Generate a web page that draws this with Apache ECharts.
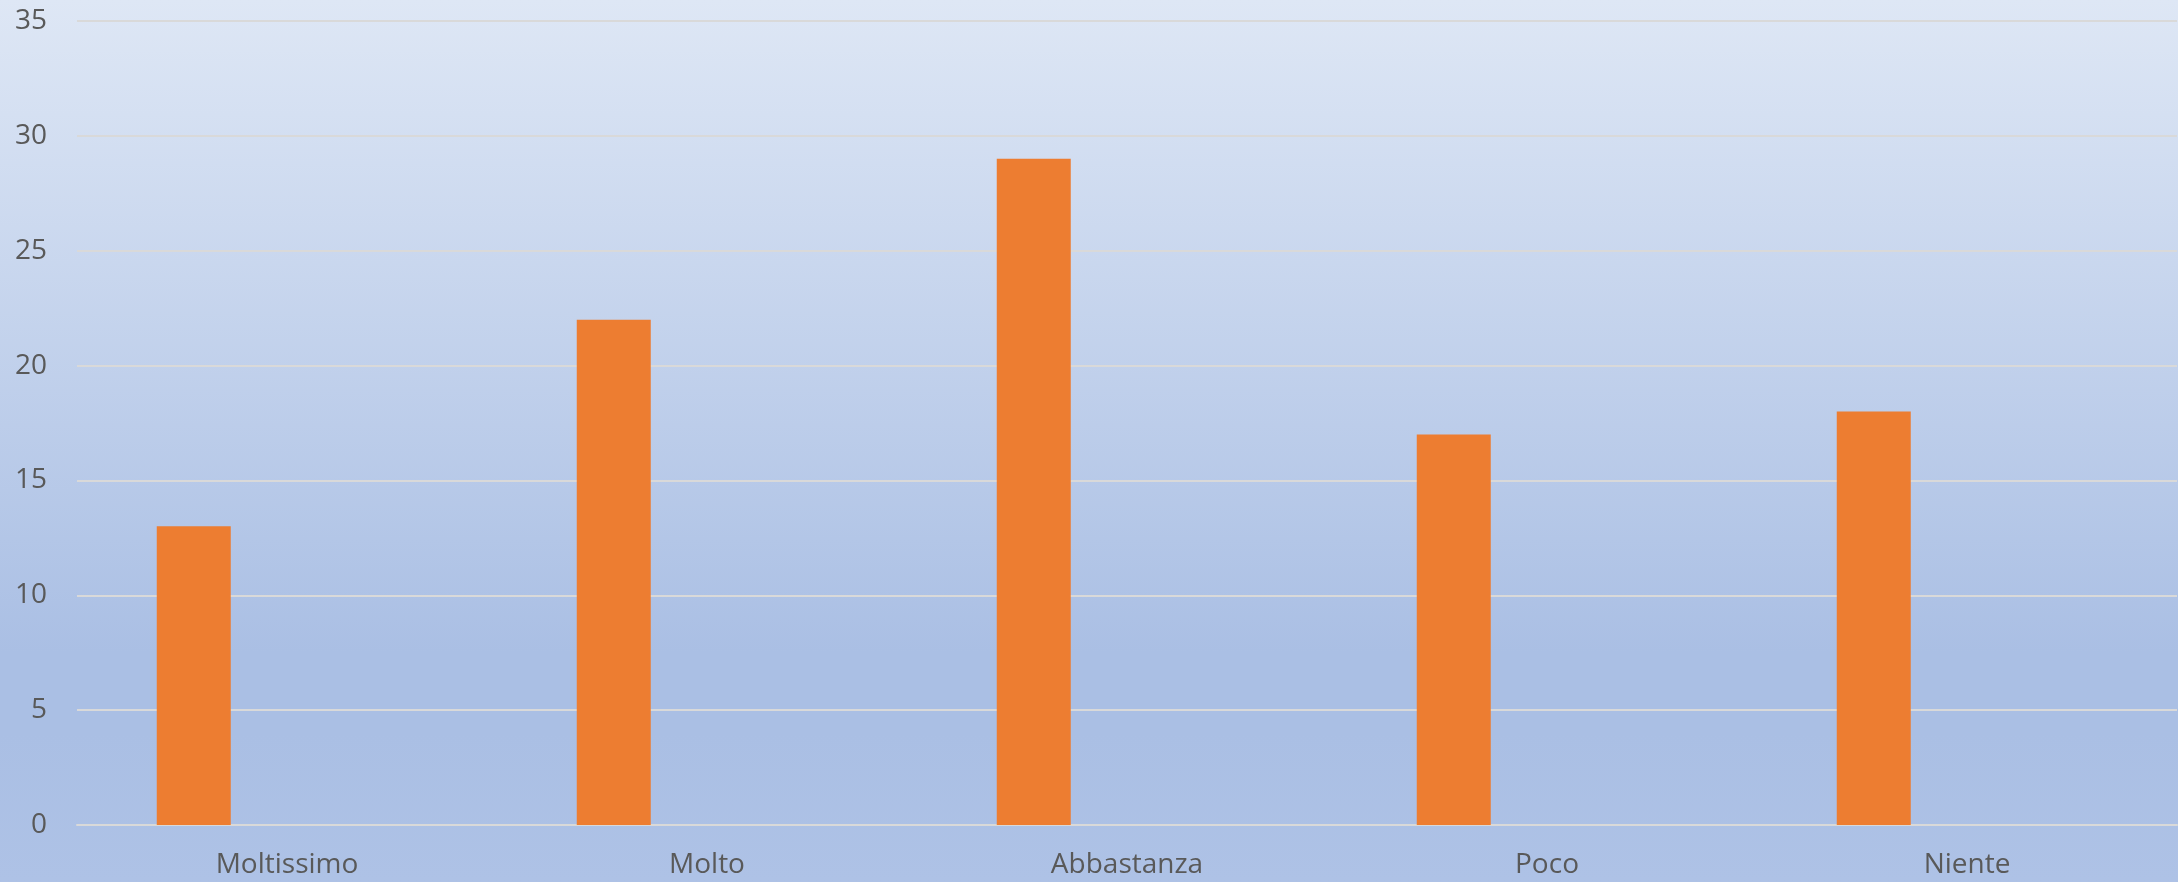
<!DOCTYPE html>
<html>
<head>
<meta charset="utf-8">
<script src="https://cdn.jsdelivr.net/npm/echarts@6/dist/echarts.min.js"></script>
<style>html,body{margin:0;padding:0;}#c{width:2178px;height:882px;}</style>
</head>
<body>
<div id="c"></div>
<script>
const categories = ['Moltissimo', 'Molto', 'Abbastanza', 'Poco', 'Niente'];
const values = [13, 22, 29, 17, 18];
const emptySeries = [null, null, null, null, null];
const yMin = 0, yMax = 35, yStep = 5;

const chart = echarts.init(document.getElementById('c'));
const font = '"Open Sans", "Noto Sans", sans-serif';
chart.setOption({
  animation: false,
  backgroundColor: {
    type: 'linear', x: 0, y: 0, x2: 0, y2: 1,
    colorStops: [
      { offset: 0, color: '#dee7f5' },
      { offset: 0.74, color: '#aabfe4' },
      { offset: 0.83, color: '#aabfe4' },
      { offset: 1, color: '#aec2e6' }
    ]
  },
  grid: { left: 77, right: 1, top: 21, bottom: 57, containLabel: false },
  xAxis: {
    type: 'category',
    data: categories,
    axisTick: { show: false },
    axisLine: { show: true, lineStyle: { color: '#d9d9d9', width: 2 } },
    axisLabel: { color: '#595959', fontSize: 28, fontFamily: font, margin: 26 }
  },
  yAxis: {
    type: 'value',
    min: yMin, max: yMax, interval: yStep,
    axisLine: { show: false },
    axisTick: { show: false },
    splitLine: { lineStyle: { color: '#d9d9d9', width: 2 } },
    axisLabel: { color: '#595959', fontSize: 28, fontFamily: font, margin: 30 }
  },
  series: [
    { type: 'bar', data: values, barWidth: 74, barGap: '152%', itemStyle: { color: '#ed7d31' } },
    { type: 'bar', data: emptySeries, barWidth: 74, itemStyle: { color: '#a5a5a5' } }
  ]
});
</script>
</body>
</html>
